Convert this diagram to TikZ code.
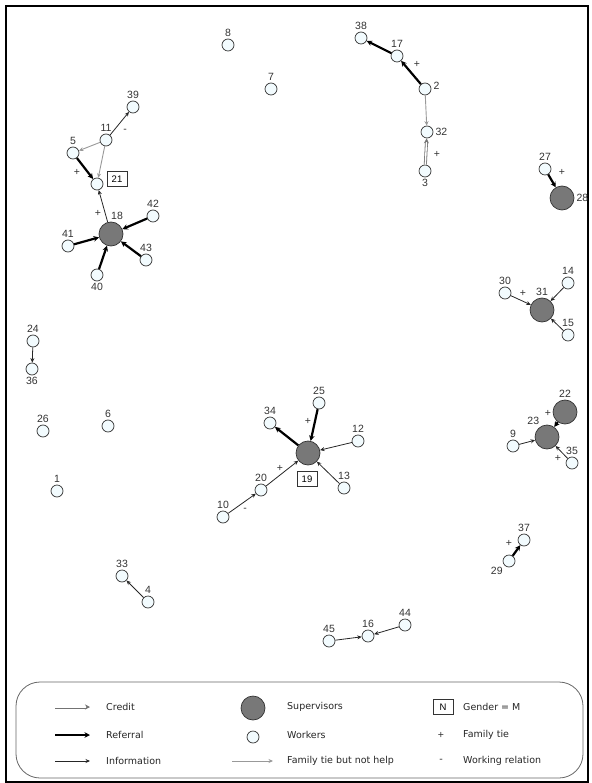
\documentclass[tikz,border=0pt]{standalone}
\usepackage{fontspec}
\setmainfont{Liberation Sans}
\newfontfamily\legendfont{DejaVu Sans}
\usetikzlibrary{arrows.meta}

\begin{document}
\begin{tikzpicture}[
    x=1pt, y=-1pt,
    worker/.style = {circle, draw=black!80, fill=cyan!5, line width=0.7pt, minimum size=12pt, inner sep=0pt},
    supervisor/.style = {circle, draw=black!80, fill=black!53, line width=0.7pt, minimum size=24pt, inner sep=0pt},
    male/.style = {draw=black!80, line width=0.7pt, minimum width=20pt, minimum height=15pt, inner sep=1pt, font=\fontsize{9.5}{9.5}\selectfont},
    every label/.style = {font=\fontsize{10.5}{10.5}\selectfont, text=black!80, inner sep=1pt},
    label distance=1pt,
    tie/.style = {font=\fontsize{10.5}{10.5}\selectfont, text=black!80, inner sep=0pt},
    referral/.style = {draw=black, line width=2.2pt, -{Stealth[length=5.5pt,width=5.5pt]}},
    information/.style = {draw=black!85, line width=0.8pt, -{Stealth[length=4.5pt,width=4pt]}},
    credit/.style = {draw=black!55, double=white, double distance=1.4pt, line width=0.8pt, -{Stealth[length=5pt,width=5pt]}},
    nohelp/.style = {draw=black!40, line width=0.9pt, -{Stealth[length=4.5pt,width=4pt]}},
    legend/.style = {font=\legendfont\fontsize{9.5}{9.5}\selectfont, text=black!85, anchor=west, inner sep=0pt}
]
\useasboundingbox (0,0) rectangle (591,783);
\draw[line width=2pt] (6,6) rectangle (588,782);

\node[worker, label=above:8] (n8) at (228,45) {};
\node[worker, label=above:7] (n7) at (271,89) {};
\node[worker, label=above:38] (n38) at (361,38) {};
\node[worker, label=above:17] (n17) at (397,56) {};
\node[worker, label={[yshift=3pt]right:2}] (n2) at (425,89) {};
\node[worker, label=right:32] (n32) at (427,132) {};
\node[worker, label=below:3] (n3) at (425,171) {};
\node[worker, label=above:39] (n39) at (133,107) {};
\node[worker, label=above:11] (n11) at (106,140) {};
\node[worker, label=above:5] (n5) at (73,153) {};
\node[worker] (n21) at (97,184) {};
\node[supervisor, label={[xshift=6pt]above:18}] (n18) at (111,234) {};
\node[worker, label=above:42] (n42) at (153,216) {};
\node[worker, label=above:41] (n41) at (68,246) {};
\node[worker, label=above:43] (n43) at (146,260) {};
\node[worker, label=below:40] (n40) at (97,275) {};
\node[worker, label=above:27] (n27) at (545,169) {};
\node[supervisor, label=right:28] (n28) at (562,198) {};
\node[worker, label=above:30] (n30) at (505,293) {};
\node[supervisor, label=above:31] (n31) at (542,310) {};
\node[worker, label=above:14] (n14) at (568,283) {};
\node[worker, label=above:15] (n15) at (568,335) {};
\node[supervisor, label=above:22] (n22) at (565,412) {};
\node[supervisor, label=120:23] (n23) at (547,437) {};
\node[worker, label=above:9] (n9) at (513,446) {};
\node[worker, label=above:35] (n35) at (572,463) {};
\node[worker, label=above:37] (n37) at (524,540) {};
\node[worker, label=225:29] (n29) at (509,561) {};
\node[supervisor] (n19) at (308,453) {};
\node[worker, label=above:25] (n25) at (319,403) {};
\node[worker, label=above:34] (n34) at (270,423) {};
\node[worker, label=above:12] (n12) at (358,441) {};
\node[worker, label=above:13] (n13) at (344,488) {};
\node[worker, label=above:20] (n20) at (261,490) {};
\node[worker, label=above:10] (n10) at (223,517) {};
\node[worker, label=above:24] (n24) at (33,341) {};
\node[worker, label=below:36] (n36) at (32,369) {};
\node[worker, label=above:26] (n26) at (43,431) {};
\node[worker, label=above:6] (n6) at (108,426) {};
\node[worker, label=above:1] (n1) at (57,491) {};
\node[worker, label=above:33] (n33) at (122,576) {};
\node[worker, label=above:4] (n4) at (148,602) {};
\node[worker, label=above:45] (n45) at (329,641) {};
\node[worker, label=above:16] (n16) at (368,636) {};
\node[worker, label=above:44] (n44) at (405,625) {};

\node[male] (m21) at (117,179) {21};
\node[male] (m19) at (307,479) {19};

\draw[referral] (n17) -- (n38);
\draw[referral] (n2) -- (n17);
\draw[referral] (n5) -- (n21);
\draw[referral] (n42) -- (n18);
\draw[referral] (n41) -- (n18);
\draw[referral] (n43) -- (n18);
\draw[referral] (n40) -- (n18);
\draw[referral] (n27) -- (n28);
\draw[referral] (n22) -- (n23);
\draw[referral] (n29) -- (n37);
\draw[referral] (n25) -- (n19);
\draw[referral] (n19) -- (n34);

\draw[information] (n11) -- (n39);
\draw[information] (n18) -- (n21);
\draw[information] (n30) -- (n31);
\draw[information] (n14) -- (n31);
\draw[information] (n15) -- (n31);
\draw[information] (n9) -- (n23);
\draw[information] (n35) -- (n23);
\draw[information] (n12) -- (n19);
\draw[information] (n13) -- (n19);
\draw[information] (n20) -- (n19);
\draw[information] (n10) -- (n20);
\draw[information] (n24) -- (n36);
\draw[information] (n4) -- (n33);
\draw[information] (n45) -- (n16);
\draw[information] (n44) -- (n16);

\draw[nohelp] (n2) -- (n32);
\draw[nohelp] (n11) -- (n5);
\draw[nohelp] (n11) -- (n21);

\draw[credit] (n3) -- (n32);

\node[tie] (t1) at (417,64) {+};
\node[tie] (t2) at (437,154) {+};
\node[tie] (t3) at (77,172) {+};
\node[tie] (t4) at (98,213) {+};
\node[tie] (t5) at (125,131) {-};
\node[tie] (t6) at (562,172) {+};
\node[tie] (t7) at (523,293) {+};
\node[tie] (t8) at (548,413) {+};
\node[tie] (t9) at (558,458) {+};
\node[tie] (t10) at (509,543) {+};
\node[tie] (t11) at (308,421) {+};
\node[tie] (t12) at (280,468) {+};
\node[tie] (t13) at (245,510) {-};

\draw[black!60, line width=0.8pt, rounded corners=24pt] (16,682) rectangle (583,778);
\coordinate (cr1) at (55,707);
\coordinate (cr2) at (90,707);
\coordinate (rf1) at (55,735);
\coordinate (rf2) at (90,735);
\coordinate (in1) at (55,761);
\coordinate (in2) at (90,761);
\coordinate (nh1) at (232,761);
\coordinate (nh2) at (273,761);
\draw[credit] (cr1) -- (cr2);
\draw[referral] (rf1) -- (rf2);
\draw[information] (in1) -- (in2);
\draw[nohelp] (nh1) -- (nh2);
\node[legend] (lcredit) at (106,707) {Credit};
\node[legend] (lreferral) at (106,735) {Referral};
\node[legend] (linfo) at (106,761) {Information};
\node[supervisor] (lsup) at (253,708) {};
\node[worker] (lwork) at (253,737) {};
\node[legend] (lsuptext) at (287,707) {Supervisors};
\node[legend] (lworktext) at (287,735) {Workers};
\node[legend] (lnohelp) at (287,761) {Family tie but not help};
\node[male] (lmale) at (443,707) {N};
\node[tie] (lplus) at (441,735) {+};
\node[tie] (lminus) at (441,761) {-};
\node[legend] (lmaletext) at (463,707) {Gender = M};
\node[legend] (lfamily) at (463,735) {Family tie};
\node[legend] (lwork2) at (463,761) {Working relation};
\end{tikzpicture}
\end{document}
